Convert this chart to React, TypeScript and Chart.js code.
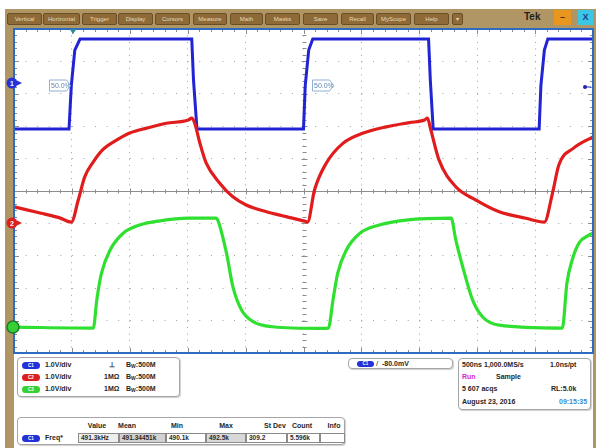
import React, { useEffect, useRef } from "react";
import { Chart, registerables } from "chart.js";

Chart.register(...registerables);

// Horizontal axis: time in divisions (500 ns/div). Vertical axis: screen divisions (1.0 V/div).
const blueT = [0, 0.95, 0.99, 1.05, 1.14, 3.07, 3.10, 3.16, 5.0, 5.03, 5.09, 5.16, 7.16, 7.19, 7.24, 9.07, 9.10, 9.16, 9.22, 10];
const blueV = [1.91, 1.91, 3.25, 4.35, 4.69, 4.69, 3.43, 1.91, 1.91, 3.25, 4.35, 4.69, 4.69, 3.43, 1.91, 1.91, 3.25, 4.35, 4.69, 4.69];

const redT = [0, 0.45, 0.79, 0.99, 1.11, 1.22, 1.37, 1.53, 1.77, 2.0, 2.29, 2.63, 3.01, 3.07, 3.12, 3.21, 3.32, 3.55, 3.78, 4.01, 4.36, 4.70, 5.02, 5.07, 5.19, 5.39, 5.68, 6.02, 6.43, 6.83, 7.09, 7.14, 7.20, 7.34, 7.63, 7.98, 8.38, 8.84, 9.16, 9.30, 9.41, 9.67, 10];
const redV = [-0.49, -0.68, -0.83, -0.96, -0.28, 0.43, 0.90, 1.27, 1.57, 1.79, 1.94, 2.09, 2.19, 2.25, 2.10, 1.48, 0.86, 0.25, -0.18, -0.43, -0.64, -0.79, -0.93, -0.96, 0.03, 0.85, 1.47, 1.78, 1.98, 2.11, 2.19, 2.25, 1.88, 0.96, 0.13, -0.28, -0.64, -0.84, -0.96, -0.07, 0.80, 1.33, 1.67];

const greenT = [0, 1.37, 1.43, 1.51, 1.66, 1.88, 2.17, 2.52, 3.01, 3.49, 3.52, 3.67, 3.78, 3.93, 4.13, 4.47, 5.28, 5.43, 5.51, 5.59, 5.74, 5.97, 6.31, 6.77, 7.55, 7.63, 7.75, 7.92, 8.09, 8.38, 9.47, 9.55, 9.64, 9.76, 9.93, 10];
const greenV = [-4.20, -4.23, -3.36, -2.54, -1.82, -1.31, -1.05, -0.92, -0.84, -0.84, -0.90, -1.92, -2.95, -3.67, -4.03, -4.19, -4.24, -4.23, -3.36, -2.54, -1.82, -1.31, -1.05, -0.90, -0.84, -1.51, -2.34, -3.36, -3.88, -4.14, -4.23, -2.84, -2.13, -1.60, -1.36, -1.30];

// Channel ground-level markers (in divisions)
const channelLabels = ["1", "2", "3"];
const channelLevels = [3.33, -0.99, -4.2];
const triggerTime = 1.02;
const triggerLevel = 3.21;
const cursorLabelTimes = [0.6, 5.14];
const cursorLabelLevel = 3.27;
const cursorLabelText = "50.0%";

const menuItems = ["Vertical", "Horizontal", "Trigger", "Display", "Cursors", "Measure", "Math", "Masks", "Save", "Recall", "MyScope", "Help", "▾"];
const channelScales = ["1.0V/div", "1.0V/div", "1.0V/div"];
const channelCoupling = ["⊥", "1MΩ", "1MΩ"];
const channelBw = ["500M", "500M", "500M"];
const measHeaders = ["Value", "Mean", "Min", "Max", "St Dev", "Count", "Info"];
const measValues = ["491.3kHz", "491.34451k", "490.1k", "492.5k", "309.2", "5.596k", ""];

const COLORS = { blue: "#2024d4", red: "#e01c1c", green: "#30e030" };
const CH_FILL = ["#2630d8", "#dc2020", "#34d034"];

const scopePlugin = {
  id: "scopeDecor",
  beforeDatasetsDraw(chart: any) {
    const { ctx, chartArea: a, scales } = chart;
    const xs = scales.x, ys = scales.y;
    ctx.save();
    ctx.strokeStyle = "#8c8c8c";
    ctx.lineWidth = 1;
    const y0 = Math.round(ys.getPixelForValue(0)) + 0.5;
    const x5 = Math.round(xs.getPixelForValue(5)) + 0.5;
    ctx.beginPath();
    ctx.moveTo(a.left, y0);
    ctx.lineTo(a.right, y0);
    ctx.stroke();
    ctx.beginPath();
    for (let i = 0; i <= 50; i++) {
      const px = Math.round(xs.getPixelForValue(i / 5)) + 0.5;
      const major = i % 5 === 0;
      const h = major ? 3 : 2;
      ctx.moveTo(px, y0 - h);
      ctx.lineTo(px, y0 + h);
      const e = major ? 5 : 3;
      ctx.moveTo(px, a.top);
      ctx.lineTo(px, a.top + e);
      ctx.moveTo(px, a.bottom);
      ctx.lineTo(px, a.bottom - e);
    }
    for (let j = -25; j <= 25; j++) {
      const py = Math.round(ys.getPixelForValue(j / 5)) + 0.5;
      const major = j % 5 === 0;
      const h = major ? 3 : 2;
      ctx.moveTo(x5 - h, py);
      ctx.lineTo(x5 + h, py);
      const e = major ? 5 : 3;
      ctx.moveTo(a.left, py);
      ctx.lineTo(a.left + e, py);
      ctx.moveTo(a.right, py);
      ctx.lineTo(a.right - e, py);
    }
    ctx.stroke();
    ctx.restore();
  },
  afterDatasetsDraw(chart: any) {
    const { ctx, chartArea: a, scales } = chart;
    const xs = scales.x, ys = scales.y;
    ctx.save();
    ctx.strokeStyle = "#2d6cc0";
    ctx.lineWidth = 2;
    ctx.strokeRect(a.left, a.top, a.right - a.left, a.bottom - a.top);

    const tx = xs.getPixelForValue(triggerTime);
    ctx.fillStyle = "#2f8a9c";
    ctx.beginPath();
    ctx.moveTo(tx - 3.5, a.top);
    ctx.lineTo(tx + 3.5, a.top);
    ctx.lineTo(tx, a.top + 5);
    ctx.closePath();
    ctx.fill();

    const ty = ys.getPixelForValue(triggerLevel);
    ctx.fillStyle = "#1f24b8";
    ctx.strokeStyle = "#1f24b8";
    ctx.lineWidth = 1;
    ctx.beginPath();
    ctx.arc(a.right - 8, ty, 2, 0, Math.PI * 2);
    ctx.fill();
    ctx.beginPath();
    ctx.moveTo(a.right - 8, ty);
    ctx.lineTo(a.right - 2, ty);
    ctx.stroke();

    ctx.font = "7px 'Liberation Sans', Arial, sans-serif";
    ctx.textBaseline = "middle";
    cursorLabelTimes.forEach((t) => {
      const lx = Math.round(xs.getPixelForValue(t)) + 0.5;
      const cy = Math.round(ys.getPixelForValue(cursorLabelLevel)) + 0.5;
      const w = 21, h = 11;
      ctx.beginPath();
      ctx.moveTo(lx, cy - h / 2);
      ctx.lineTo(lx + w - 4, cy - h / 2);
      ctx.lineTo(lx + w, cy);
      ctx.lineTo(lx + w - 4, cy + h / 2);
      ctx.lineTo(lx, cy + h / 2);
      ctx.closePath();
      ctx.fillStyle = "rgba(255,255,255,0.85)";
      ctx.fill();
      ctx.strokeStyle = "#8fb0d4";
      ctx.stroke();
      ctx.fillStyle = "#5f86b4";
      ctx.textAlign = "left";
      ctx.fillText(cursorLabelText, lx + 1.5, cy + 0.5);
    });

    channelLevels.forEach((lvl, i) => {
      const py = ys.getPixelForValue(lvl);
      const cx = a.left - 2;
      const col = CH_FILL[i];
      if (i < 2) {
        ctx.fillStyle = col;
        ctx.beginPath();
        ctx.moveTo(cx + 5, py - 2.5);
        ctx.lineTo(cx + 10, py);
        ctx.lineTo(cx + 5, py + 2.5);
        ctx.closePath();
        ctx.fill();
        ctx.strokeStyle = col;
        ctx.lineWidth = 1.5;
        ctx.beginPath();
        ctx.moveTo(cx + 3, py);
        ctx.lineTo(cx + 7, py);
        ctx.stroke();
        ctx.beginPath();
        ctx.arc(cx, py, 5.5, 0, Math.PI * 2);
        ctx.fill();
        ctx.fillStyle = "#ffffff";
        ctx.font = "bold 7px 'Liberation Sans', Arial, sans-serif";
        ctx.textAlign = "center";
        ctx.fillText(channelLabels[i], cx, py + 0.5);
      } else {
        ctx.fillStyle = col;
        ctx.strokeStyle = "#1f7a2a";
        ctx.lineWidth = 1.5;
        ctx.beginPath();
        ctx.arc(cx + 1, py, 6, 0, Math.PI * 2);
        ctx.fill();
        ctx.stroke();
      }
    });
    ctx.restore();
  },
};

const T = ({ x, y, children, color = "#262626", size = 7, bold = false, center = false }: any) => (
  <div
    style={{
      position: "absolute",
      left: center ? x - 30 : x,
      width: center ? 60 : undefined,
      textAlign: center ? "center" : "left",
      top: y - 5,
      height: 10,
      lineHeight: "10px",
      fontSize: size,
      fontWeight: bold ? 700 : 400,
      color,
      whiteSpace: "nowrap",
    }}
  >
    {children}
  </div>
);

const Pill = ({ x, y, color, text, w = 18, h = 7 }: any) => (
  <div
    style={{
      position: "absolute",
      left: x,
      top: y - h / 2,
      width: w,
      height: h,
      borderRadius: h / 2,
      background: color,
      color: "#fff",
      fontSize: 4.5,
      lineHeight: `${h}px`,
      textAlign: "center",
      fontWeight: 700,
    }}
  >
    {text}
  </div>
);

const boxStyle = (x: number, y: number, w: number, h: number): any => ({
  position: "absolute",
  left: x,
  top: y,
  width: w,
  height: h,
  border: "1px solid #a6a6a6",
  borderRadius: 4,
  boxShadow: "1px 1px 1px #d0d0d0",
  background: "#fff",
  boxSizing: "border-box",
});

export default function App() {
  const ref = useRef<HTMLCanvasElement>(null);

  useEffect(() => {
    const pts = (t: number[], v: number[]) => t.map((x, i) => ({ x, y: v[i] }));
    const chart = new Chart(ref.current as HTMLCanvasElement, {
      type: "scatter",
      data: {
        datasets: [
          { label: "C3", data: pts(greenT, greenV), borderColor: COLORS.green, backgroundColor: COLORS.green, showLine: true, borderWidth: 3.2, pointRadius: 0, cubicInterpolationMode: "monotone" },
          { label: "C2", data: pts(redT, redV), borderColor: COLORS.red, backgroundColor: COLORS.red, showLine: true, borderWidth: 3.2, pointRadius: 0, cubicInterpolationMode: "monotone" },
          { label: "C1", data: pts(blueT, blueV), borderColor: COLORS.blue, backgroundColor: COLORS.blue, showLine: true, borderWidth: 3, pointRadius: 0 },
        ],
      },
      options: {
        animation: false,
        responsive: false,
        maintainAspectRatio: false,
        events: [],
        layout: { padding: { left: 14, top: 29, right: 3, bottom: 95 } },
        plugins: { legend: { display: false }, tooltip: { enabled: false } },
        elements: { line: { tension: 0 }, point: { radius: 0 } },
        scales: {
          x: {
            type: "linear",
            min: 0,
            max: 10,
            ticks: { display: false, stepSize: 1 },
            grid: { color: "#a0a0a0", lineWidth: 1, drawTicks: false },
            border: { display: false, dash: [1, 5.48] },
          },
          y: {
            type: "linear",
            min: -5,
            max: 5,
            ticks: { display: false, stepSize: 1 },
            grid: { color: "#a0a0a0", lineWidth: 1, drawTicks: false },
            border: { display: false, dash: [1, 10.58] },
          },
        },
      } as any,
      plugins: [scopePlugin],
    });
    return () => chart.destroy();
  }, []);

  const menuX = [7, 43, 82, 118, 155, 193, 230, 265, 303, 341, 376, 414, 452];
  const menuW = [35, 37, 35, 35, 35, 34, 33, 35, 35, 33, 35, 35, 11];
  const rowY = [365, 377, 389];
  const cellX = [78, 119, 166, 206, 246, 287, 320];
  const cellW = [41, 47, 40, 40, 41, 33, 25];
  const cellBg = ["#eeeeee", "#d2d2d2", "#ffffff", "#d8d8d8", "#ffffff", "#ffffff", "#ffffff"];
  const headX = [97, 127, 177, 226, 275, 302, 334];

  return (
    <div
      style={{
        position: "fixed",
        left: 0,
        top: 0,
        width: 596,
        height: 448,
        background: "#ffffff",
        overflow: "hidden",
        fontFamily: "'Liberation Sans', Arial, sans-serif",
      }}
    >
      <div style={{ position: "absolute", left: 5, top: 9, width: 591, height: 20, background: "#b09565" }} />
      <div style={{ position: "absolute", left: 5, top: 9, width: 9, height: 439, background: "#b09565" }} />
      <div style={{ position: "absolute", left: 593, top: 9, width: 3, height: 439, background: "#b09565" }} />
      {menuItems.map((m, i) => (
        <div
          key={m}
          style={{
            position: "absolute",
            left: menuX[i],
            top: 13,
            width: menuW[i],
            height: 12,
            background: "#8d6a38",
            border: "1px solid #6a4e26",
            borderRadius: 2,
            boxSizing: "border-box",
            color: "#eadbb4",
            fontSize: 6,
            lineHeight: "10px",
            textAlign: "center",
          }}
        >
          {m}
        </div>
      ))}
      <div style={{ position: "absolute", left: 524, top: 10, fontSize: 10, fontWeight: 700, color: "#222", lineHeight: "14px" }}>Tek</div>
      <div style={{ position: "absolute", left: 554, top: 10, width: 17, height: 15, background: "#e8961e", color: "#5a3000", fontSize: 9, lineHeight: "15px", textAlign: "center", fontWeight: 700 }}>–</div>
      <div style={{ position: "absolute", left: 578, top: 10, width: 15, height: 15, background: "#3cc6e6", color: "#1a3a8a", fontSize: 9, lineHeight: "15px", textAlign: "center", fontWeight: 700 }}>X</div>

      <div style={boxStyle(17, 357, 163, 40)} />
      {channelScales.map((s, i) => (
        <React.Fragment key={"ch" + i}>
          <Pill x={22} y={rowY[i]} color={CH_FILL[i]} text={"C" + (i + 1)} />
          <T x={45} y={rowY[i]} bold>{s}</T>
          <T x={i === 0 ? 109 : 104} y={rowY[i]} bold>{channelCoupling[i]}</T>
          <T x={126} y={rowY[i]} bold>
            B<sub style={{ fontSize: 5, verticalAlign: "-1px" }}>W</sub>:{channelBw[i]}
          </T>
        </React.Fragment>
      ))}

      <div style={boxStyle(348, 358, 105, 11)} />
      <Pill x={357} y={363.5} color={CH_FILL[0]} text="C1" w={17} h={6} />
      <T x={376} y={363.5} size={8}>/</T>
      <T x={382} y={363.5} bold>-80.0mV</T>

      <div style={boxStyle(458, 358, 133, 52)} />
      <T x={462} y={365} bold>500ns</T>
      <T x={484} y={365} bold>1,000.0MS/s</T>
      <T x={550} y={365} bold>1.0ns/pt</T>
      <T x={462} y={377} color="#d22ad2" bold>Run</T>
      <T x={496} y={377} bold>Sample</T>
      <T x={462} y={389} bold>5 607 acqs</T>
      <T x={551} y={389} bold>RL:5.0k</T>
      <T x={462} y={401.5} bold>August 23, 2016</T>
      <T x={559} y={401.5} color="#3a8ad0" bold>09:15:35</T>

      <div style={boxStyle(17, 417, 328, 28)} />
      {measHeaders.map((h, i) => (
        <T key={"h" + i} x={headX[i]} y={426} center bold>
          {h}
        </T>
      ))}
      <Pill x={22} y={438} color={CH_FILL[0]} text="C1" />
      <T x={45} y={438} bold>Freq*</T>
      {measValues.map((v, i) => (
        <div
          key={"c" + i}
          style={{
            position: "absolute",
            left: cellX[i],
            top: 433,
            width: cellW[i],
            height: 10,
            border: "1px solid #8a8a8a",
            boxSizing: "border-box",
            background: cellBg[i],
            fontSize: 6.5,
            fontWeight: 700,
            color: "#2b2b2b",
            lineHeight: "8px",
            paddingLeft: 2,
            whiteSpace: "nowrap",
            overflow: "hidden",
          }}
        >
          {v}
        </div>
      ))}

      <canvas ref={ref} width={596} height={448} style={{ position: "absolute", left: 0, top: 0, width: 596, height: 448 }} />
    </div>
  );
}
